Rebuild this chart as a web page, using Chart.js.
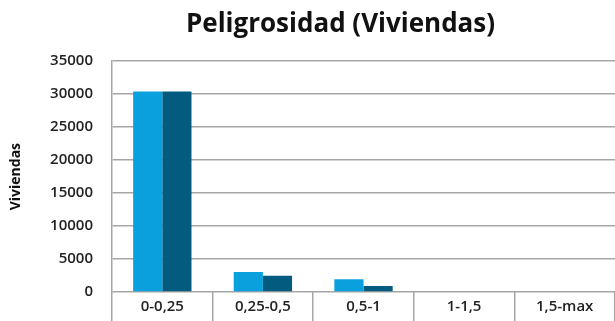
<!DOCTYPE html>
<html>
<head>
<meta charset="utf-8">
<script src="https://cdn.jsdelivr.net/npm/chart.js@4.4.1/dist/chart.umd.min.js"></script>
<style>
  html, body { margin: 0; padding: 0; background: #fff; }
  #wrap { width: 615px; height: 321px; }
</style>
</head>
<body>
<div id="wrap"><canvas id="chart"></canvas></div>
<script>
const categories = ['0-0,25', '0,25-0,5', '0,5-1', '1-1,5', '1,5-max'];
const seriesA = [30400, 3050, 1950, 0, 0];
const seriesB = [30400, 2450, 900, 0, 0];
const yTicks = [0, 5000, 10000, 15000, 20000, 25000, 30000, 35000];

// shift the title so it sits over the plot the same way the original did
const titleShift = {
    id: 'titleShift',
    afterLayout(chart) {
        if (chart.titleBlock) {
            chart.titleBlock.left = 66;
            chart.titleBlock.right = 615;
        }
    }
};

const ctx = document.getElementById('chart').getContext('2d');
new Chart(ctx, {
    type: 'bar',
    data: {
        labels: categories,
        datasets: [
            {
                label: 'Serie 1',
                data: seriesA,
                backgroundColor: '#0aa0dd',
                categoryPercentage: 0.58,
                barPercentage: 1.0
            },
            {
                label: 'Serie 2',
                data: seriesB,
                backgroundColor: '#035b80',
                categoryPercentage: 0.58,
                barPercentage: 1.0
            }
        ]
    },
    options: {
        responsive: true,
        maintainAspectRatio: false,
        animation: false,
        layout: { padding: { left: 0, right: 0, top: 0, bottom: 0 } },
        plugins: {
            legend: { display: false },
            tooltip: { enabled: false },
            title: {
                display: true,
                text: 'Peligrosidad (Viviendas)',
                color: '#111',
                font: { family: 'Open Sans', size: 26, weight: 'bold' },
                padding: { top: 9, bottom: 21 }
            }
        },
        scales: {
            x: {
                offset: true,
                grid: {
                    offset: true,
                    drawOnChartArea: false,
                    drawTicks: true,
                    tickLength: 29,
                    color: '#a6a6a6',
                    lineWidth: 1.5
                },
                border: { display: false },
                ticks: {
                    color: '#222',
                    font: { family: 'Open Sans', size: 15, weight: 600 },
                    padding: -23,
                    maxRotation: 0
                },
                afterFit(scale) { scale.height = 29; }
            },
            y: {
                min: 0,
                max: 35000,
                afterBuildTicks(scale) {
                    scale.ticks = yTicks.map(v => ({ value: v }));
                },
                grid: {
                    color: '#a6a6a6',
                    lineWidth: 1.5,
                    drawTicks: false
                },
                border: { display: true, color: '#a6a6a6', width: 1.5 },
                ticks: {
                    color: '#222',
                    font: { family: 'Open Sans', size: 15, weight: 600 },
                    padding: 19,
                    callback: value => String(value)
                },
                title: {
                    display: true,
                    text: 'Viviendas',
                    color: '#111',
                    font: { family: 'Open Sans', size: 14, weight: 'bold' },
                    padding: { top: 8, bottom: 0 }
                },
                afterFit(scale) { scale.width = 112; }
            }
        }
    },
    plugins: [titleShift]
});
</script>
</body>
</html>
